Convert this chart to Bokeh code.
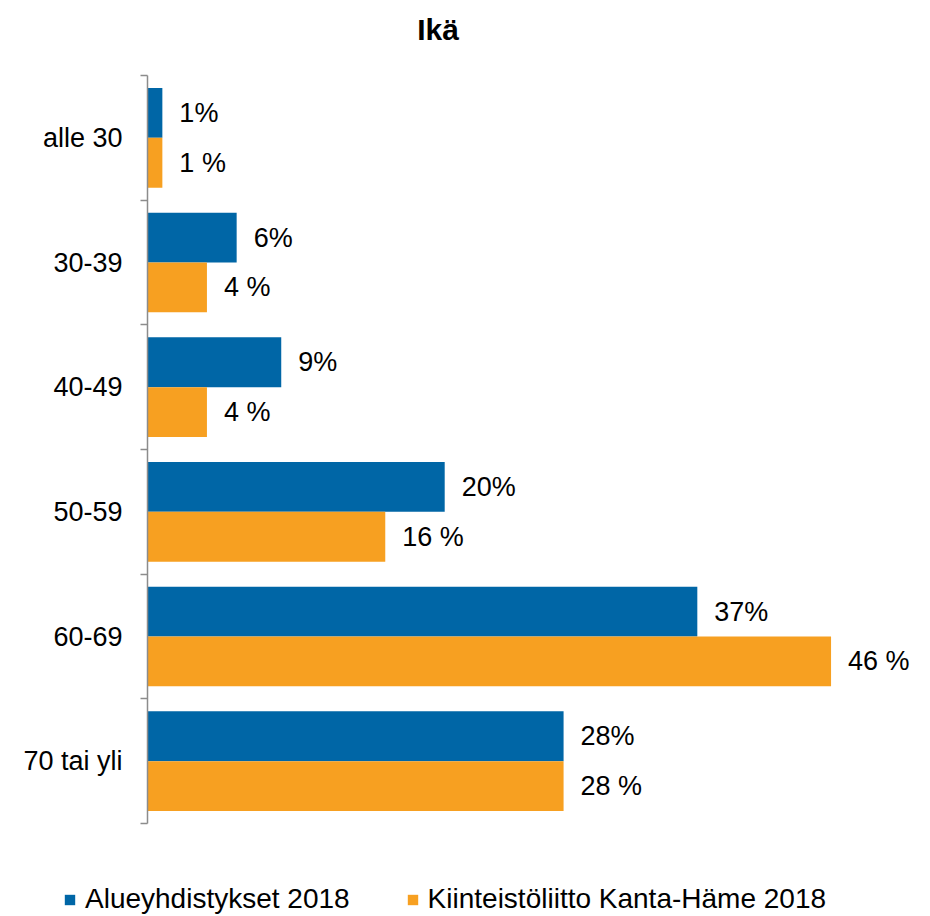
from bokeh.plotting import figure
from bokeh.models import Range1d, FixedTicker, Legend, LegendItem, ColumnDataSource, Label
from bokeh.core.properties import value
from bokeh.embed import file_html
from bokeh.resources import INLINE

# Age groups and shares (%) for the two respondent groups
categories = ["alle 30", "30-39", "40-49", "50-59", "60-69", "70 tai yli"]
alueyhdistykset_2018 = [1, 6, 9, 20, 37, 28]
kanta_hame_2018 = [1, 4, 4, 16, 46, 28]
series_names = ["Alueyhdistykset 2018", "Kiinteistöliitto Kanta-Häme 2018"]
title_text = "Ikä"

BLUE = "#0066A6"
ORANGE = "#F7A021"
AXIS_GRAY = "#8C8C8C"
FONT = "Liberation Sans"

n = len(categories)
centers = [i + 0.5 for i in range(n)]
bar_h = 0.4

blue_src = ColumnDataSource(dict(
    y=[c - bar_h / 2 for c in centers],
    v=alueyhdistykset_2018,
    lab=[f"{v}%" for v in alueyhdistykset_2018],
))
orange_src = ColumnDataSource(dict(
    y=[c + bar_h / 2 for c in centers],
    v=kanta_hame_2018,
    lab=[f"{v} %" for v in kanta_hame_2018],
))

# The frame fills the whole canvas; the value axis origin sits 147 px in,
# the six category bands run from 75 px to 823 px down, and the category
# axis is pinned at the origin.
fig_w, fig_h = 930, 916
top_px, band_bottom_px = 75, 823
origin_px = 147
px_per_pct = 14.86
px_per_band = (band_bottom_px - top_px) / n

x_start = -origin_px / px_per_pct
x_end = (fig_w - origin_px) / px_per_pct
y_top = -top_px / px_per_band
y_bottom = n + (fig_h - band_bottom_px) / px_per_band

p = figure(
    width=fig_w, height=fig_h,
    x_range=Range1d(x_start, x_end),
    y_range=Range1d(start=y_bottom, end=y_top),
    output_backend="svg", toolbar_location=None,
    min_border=0,
)
p.outline_line_color = None
p.grid.visible = False
p.xaxis.visible = False
p.background_fill_color = "white"
p.border_fill_color = "white"

r_blue = p.hbar(y="y", left=0, right="v", height=bar_h, source=blue_src,
                fill_color=BLUE, line_color=None)
r_orange = p.hbar(y="y", left=0, right="v", height=bar_h, source=orange_src,
                  fill_color=ORANGE, line_color=None)

for src in (blue_src, orange_src):
    p.text(x="v", y="y", text="lab", source=src, x_offset=17,
           text_align="left", text_baseline="middle",
           text_font=value(FONT), text_font_size="27px", text_color="black")

yax = p.yaxis[0]
yax.fixed_location = 0
yax.ticker = FixedTicker(ticks=centers, minor_ticks=list(range(n + 1)))
yax.major_label_overrides = {c: name for c, name in zip(centers, categories)}
yax.bounds = (0, n)
yax.axis_line_color = AXIS_GRAY
yax.axis_line_width = 1.5
yax.major_tick_out = 0
yax.major_tick_in = 0
yax.minor_tick_out = 7
yax.minor_tick_in = 0
yax.minor_tick_line_color = AXIS_GRAY
yax.minor_tick_line_width = 1.5
yax.major_label_standoff = 18
yax.major_label_text_font = FONT
yax.major_label_text_font_size = "27px"
yax.major_label_text_color = "black"

# chart heading, placed in screen pixels above the bands
p.add_layout(Label(
    x=437.5, y=fig_h - 29, x_units="screen", y_units="screen",
    text=title_text, text_align="center", text_baseline="alphabetic",
    text_font=FONT, text_font_size="30px", text_font_style="bold",
    text_color="black",
))

legend = Legend(
    items=[LegendItem(label=series_names[0], renderers=[r_blue]),
           LegendItem(label=series_names[1], renderers=[r_orange])],
    orientation="horizontal",
    location=(63, 1),
    glyph_width=13, glyph_height=13,
    label_standoff=9, spacing=56,
    padding=0, margin=0,
    border_line_color=None, background_fill_alpha=0,
    label_text_font=FONT, label_text_font_size="28px",
    label_text_color="black",
)
p.add_layout(legend, "center")

open("out.html", "w").write(file_html(p, INLINE))
